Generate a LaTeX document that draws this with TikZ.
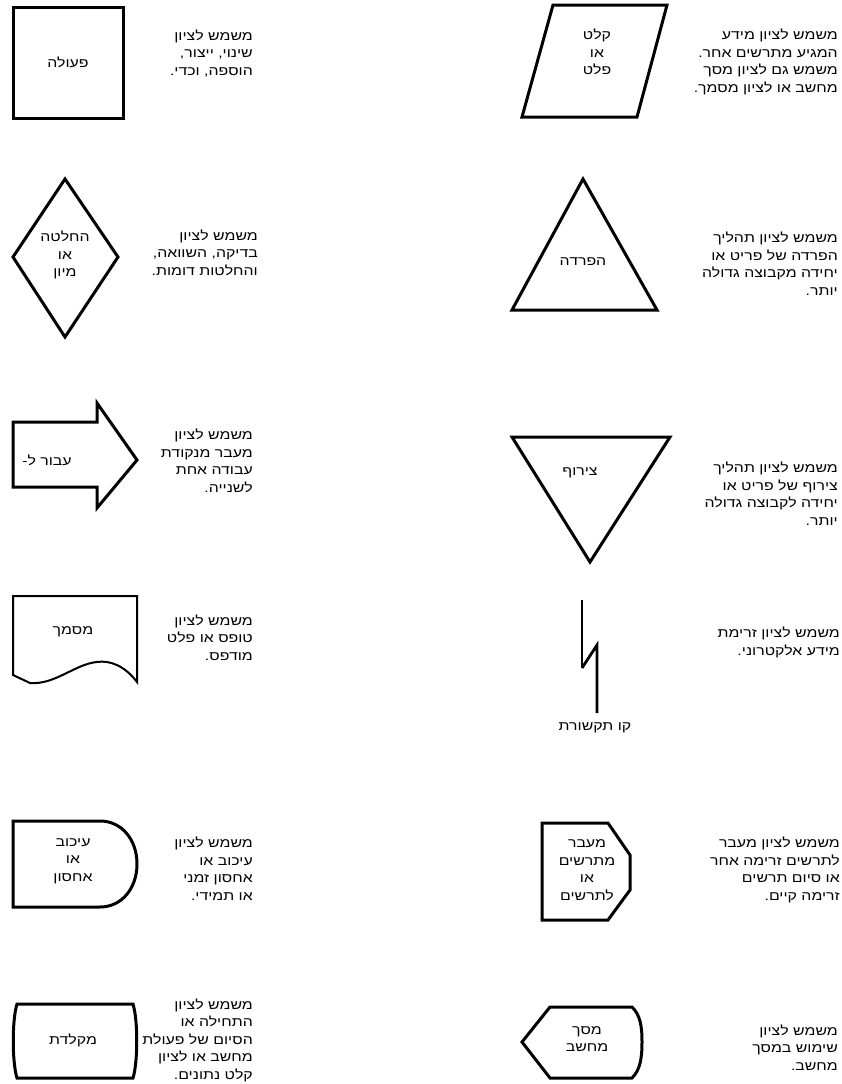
\documentclass[tikz,border=0pt]{standalone}
\usepackage{fontspec}
\newfontfamily\hebfont[Script=Hebrew, FakeStretch=1.22]{Liberation Sans}
\TeXXeTstate=1
\newcommand{\heb}[1]{\beginR #1\endR}
\begin{document}
\begin{tikzpicture}[
    x=1pt, y=-1pt,
    sym/.style={draw=black, line width=3pt, line join=miter, fill=white},
    lbl/.style={font=\hebfont\fontsize{13}{17.5}\selectfont, align=center, inner sep=0pt},
    desc/.style={font=\hebfont\fontsize{13}{17.5}\selectfont, align=right, anchor=base east, inner sep=0pt}
]
    \useasboundingbox (0,0) rectangle (842,1084);

    % Symbols, left column
    \draw[sym] (13,7) rectangle (123,118);
    \draw[sym] (65,179) -- (118,257) -- (65,337) -- (13,257) -- cycle;
    \draw[sym] (13,422) -- (97,422) -- (97,403) -- (137,460) -- (97,508) -- (97,487) -- (13,487) -- cycle;
    \draw[sym, line width=2pt] (13,596) -- (137,596) -- (137,682) .. controls (125,666) and (110,660) .. (97,662)
        .. controls (75,664) and (55,685) .. (30,683) -- (13,675) -- cycle;
    \draw[sym] (13,821) -- (100,821) .. controls (122,821) and (137,840) .. (137,864)
        .. controls (137,888) and (122,907) .. (100,907) -- (13,907) -- cycle;
    \draw[sym] (17,1004) -- (133,1004) .. controls (138,1020) and (138,1062) .. (133,1078)
        -- (17,1078) .. controls (12,1062) and (12,1020) .. cycle;

    % Symbols, right column
    \draw[sym] (553,5) -- (667,5) -- (637,117) -- (522,117) -- cycle;
    \draw[sym] (583,179) -- (657,310) -- (512,310) -- cycle;
    \draw[sym] (512,437) -- (670,437) -- (590,562) -- cycle;
    \draw[line width=1.3pt] (582,600) -- (582,668);
    \draw[line width=2.8pt] (582,668) -- (597,645) -- (597,713);
    \draw[sym] (542,823) -- (608,823) -- (630,855) -- (630,890) -- (608,920) -- (542,920) -- cycle;
    \draw[sym] (522,1042) -- (550,1007) -- (632,1007) .. controls (640,1015) and (642,1025) .. (642,1042)
        .. controls (642,1059) and (640,1070) .. (632,1078) -- (550,1078) -- cycle;

    % Labels in the symbols
    \node[lbl] (action) at (68,62) {\heb{פעולה}};
    \node[lbl] (decision) at (65,255) {\heb{החלטה}\\\heb{או}\\\heb{מיון}};
    \node[lbl] (goto) at (47,460) {\heb{עבור ל-}};
    \node[lbl] (document) at (73,632) {\heb{מסמך}};
    \node[lbl] (delay) at (73,861) {\heb{עיכוב}\\\heb{או}\\\heb{אחסון}};
    \node[lbl] (terminal) at (73,1040) {\heb{מקלדת}};
    \node[lbl] (io) at (597,52) {\heb{קלט}\\\heb{או}\\\heb{פלט}};
    \node[lbl] (split) at (583,262) {\heb{הפרדה}};
    \node[lbl] (merge) at (580,473) {\heb{צירוף}};
    \node[lbl] (comline) at (595,728) {\heb{קו תקשורת}};
    \node[lbl] (offpage) at (587,870) {\heb{מעבר}\\\heb{מתרשים}\\\heb{או}\\\heb{לתרשים}};
    \node[lbl] (display) at (587,1039) {\heb{מסך}\\\heb{מחשב}};

    % Descriptions (placed at the baseline of their last line)
    \node[desc] (actionDesc) at (253,75) {\heb{משמש לציון}\\\heb{שינוי, ייצור,}\\\heb{הוספה, וכדי.}};
    \node[desc] (decisionDesc) at (258,275) {\heb{משמש לציון}\\\heb{בדיקה, השוואה,}\\\heb{והחלטות דומות.}};
    \node[desc] (gotoDesc) at (253,492) {\heb{משמש לציון}\\\heb{מעבר מנקודת}\\\heb{עבודה אחת}\\\heb{לשנייה.}};
    \node[desc] (documentDesc) at (253,660) {\heb{משמש לציון}\\\heb{טופס או פלט}\\\heb{מודפס.}};
    \node[desc] (delayDesc) at (253,900) {\heb{משמש לציון}\\\heb{עיכוב או}\\\heb{אחסון זמני}\\\heb{או תמידי.}};
    \node[desc] (terminalDesc) at (253,1079) {\heb{משמש לציון}\\\heb{התחילה או}\\\heb{הסיום של פעולת}\\\heb{מחשב או לציון}\\\heb{קלט נתונים.}};
    \node[desc] (ioDesc) at (838,92) {\heb{משמש לציון מידע}\\\heb{המגיע מתרשים אחר.}\\\heb{משמש גם לציון מסך}\\\heb{מחשב או לציון מסמך.}};
    \node[desc] (splitDesc) at (838,295) {\heb{משמש לציון תהליך}\\\heb{הפרדה של פריט או}\\\heb{יחידה מקבוצה גדולה}\\\heb{יותר.}};
    \node[desc] (mergeDesc) at (838,525) {\heb{משמש לציון תהליך}\\\heb{צירוף של פריט או}\\\heb{יחידה לקבוצה גדולה}\\\heb{יותר.}};
    \node[desc] (comlineDesc) at (840,655) {\heb{משמש לציון זרימת}\\\heb{מידע אלקטרוני.}};
    \node[desc] (offpageDesc) at (840,900) {\heb{משמש לציון מעבר}\\\heb{לתרשים זרימה אחר}\\\heb{או סיום תרשים}\\\heb{זרימה קיים.}};
    \node[desc] (displayDesc) at (838,1070) {\heb{משמש לציון}\\\heb{שימוש במסך}\\\heb{מחשב.}};
\end{tikzpicture}
\end{document}
